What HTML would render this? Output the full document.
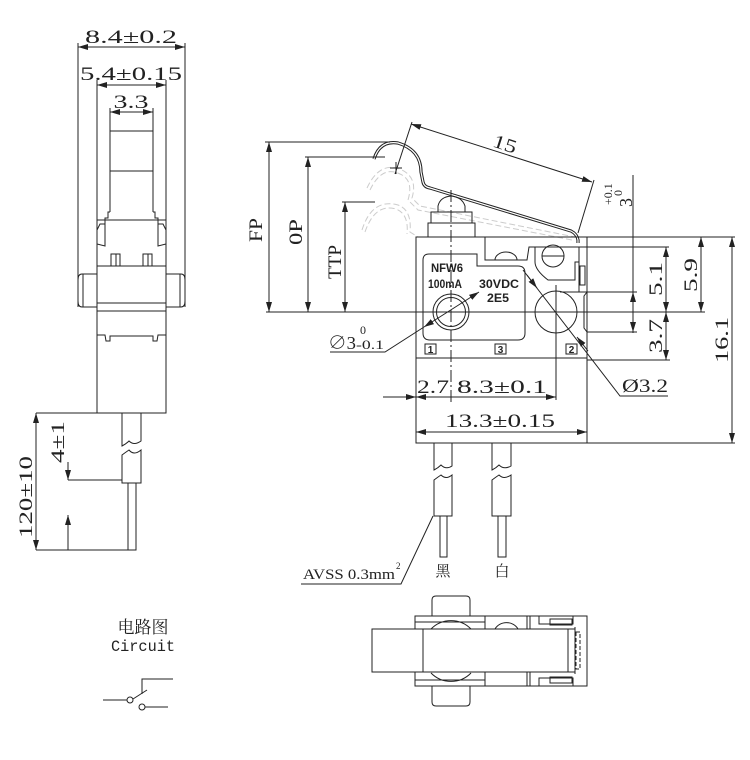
<!DOCTYPE html>
<html><head><meta charset="utf-8"><style>
html,body{margin:0;padding:0;background:#fff;}
svg{display:block;}
text{font-family:"Liberation Serif","Noto Serif CJK SC",serif;fill:#222;}
.s{font-family:"Liberation Sans","Noto Sans CJK SC",sans-serif;font-weight:bold;}
</style></head><body>
<svg width="750" height="760" viewBox="0 0 750 760" xmlns="http://www.w3.org/2000/svg">
<defs>
<marker id="a" viewBox="0 0 10 6" refX="10" refY="3" markerWidth="10" markerHeight="6" markerUnits="userSpaceOnUse" orient="auto-start-reverse"><path d="M0,0 L10,3 L0,6 z" fill="#222"/></marker>
</defs>
<g stroke="#222" stroke-width="1" fill="none">
<!-- LEFT SIDE VIEW -->
<line x1="78" y1="43" x2="78" y2="307"/><line x1="185" y1="43" x2="185" y2="307"/>
<line x1="78" y1="47" x2="185" y2="47" marker-start="url(#a)" marker-end="url(#a)"/>
<line x1="97" y1="80" x2="97" y2="225"/><line x1="166" y1="80" x2="166" y2="225"/>
<line x1="97" y1="85" x2="166" y2="85" marker-start="url(#a)" marker-end="url(#a)"/>
<line x1="110" y1="108" x2="110" y2="212"/><line x1="153" y1="108" x2="153" y2="212"/>
<line x1="110" y1="112" x2="153" y2="112" marker-start="url(#a)" marker-end="url(#a)"/>
<line x1="110" y1="131" x2="153" y2="131"/><line x1="110" y1="171" x2="153" y2="171"/>
<path d="M110,212 L108,212 L108,218 L105,218 L105,224 L100,224 L97,230 L97,244 L105,246 L105,220 M153,212 L155,212 L155,218 L158,218 L158,224 L163,224 L166,230 L166,244 L158,246 L158,220"/>
<line x1="97" y1="220" x2="166" y2="220"/>
<rect x="111" y="254" width="5" height="12"/><rect x="116" y="254" width="4" height="12"/>
<rect x="143" y="254" width="5" height="12"/><rect x="148" y="254" width="4" height="12"/>
<line x1="97" y1="266" x2="166" y2="266"/>
<path d="M97,274 L82,274 Q78,274 78,280 L78,301 Q78,307 82,307 L97,307"/>
<path d="M166,274 L181,274 Q185,274 185,280 L185,301 Q185,307 181,307 L166,307"/>
<line x1="83" y1="274" x2="83" y2="307"/><line x1="180" y1="274" x2="180" y2="307"/>
<rect x="97" y="220" width="69" height="193"/>
<line x1="97" y1="303" x2="166" y2="303"/><line x1="97" y1="311" x2="166" y2="311"/>
<path d="M97,335 L105,335 L106,341 L110,341 L110,336 L153,336 L153,341 L157,341 L158,335 L166,335"/>
<!-- wire -->
<path d="M122,413 L122,446 Q126,444 129,441 Q134,446 141,441 L141,413"/>
<path d="M122,483 L122,455 Q126,452 129,450 Q134,456 141,450 L141,483 Z"/>
<rect x="128" y="483" width="8" height="67"/>
<line x1="36" y1="413" x2="97" y2="413"/><line x1="36" y1="550" x2="136" y2="550"/>
<line x1="68" y1="480" x2="122" y2="480"/>
<line x1="36" y1="413" x2="36" y2="550" marker-start="url(#a)" marker-end="url(#a)"/>
<line x1="68" y1="462" x2="68" y2="480" marker-end="url(#a)"/>
<line x1="68" y1="515" x2="68" y2="550" marker-start="url(#a)"/>
</g>
<g font-size="19">
<text x="131" y="43" text-anchor="middle" textLength="92" lengthAdjust="spacingAndGlyphs">8.4±0.2</text>
<text x="131" y="80" text-anchor="middle" textLength="102" lengthAdjust="spacingAndGlyphs">5.4±0.15</text>
<text x="131" y="108" text-anchor="middle" textLength="35" lengthAdjust="spacingAndGlyphs">3.3</text>
<text transform="translate(32,497) rotate(-90)" text-anchor="middle" textLength="82" lengthAdjust="spacingAndGlyphs">120±10</text>
<text transform="translate(64,442) rotate(-90)" text-anchor="middle" textLength="42" lengthAdjust="spacingAndGlyphs">4±1</text>
</g>

<!-- MAIN VIEW -->
<g stroke="#ccc" stroke-width="1" fill="none" stroke-dasharray="6,3">
<path d="M367,188 Q380,160 402,170 Q418,178 412,198 L420,206 L575,237"/>
<path d="M370,190 Q382,165 400,174 Q414,180 408,200 L418,210 L572,240"/>
<path d="M362,230 Q372,198 398,205 Q412,210 410,232 L418,237 L570,237"/>
<path d="M365,232 Q375,203 396,209 Q409,214 407,234"/>
</g>
<g stroke="#222" stroke-width="1" fill="none">
<!-- lever -->
<path d="M374,159 Q380,140 398,143 Q421,150 421,172 L423,182 Q424,187 430,188 L571,231 Q577,234 578,240 L578,243" stroke-width="3.2"/>
<path d="M374,159 Q380,140 398,143 Q421,150 421,172 L423,182 Q424,187 430,188 L571,231 Q577,234 578,240 L578,243" stroke="#fff" stroke-width="1.2"/>
<line x1="390" y1="168" x2="402" y2="168"/><line x1="396" y1="162" x2="396" y2="174"/>
<!-- plunger -->
<path d="M438,212 L438,206 Q440,197 451,196 Q462,197 465,206 L465,212 Z"/>
<rect x="431" y="212" width="41" height="11"/>
<rect x="428" y="223" width="47" height="14"/>
<!-- body -->
<rect x="416" y="237" width="171" height="206"/>
<line x1="416" y1="358" x2="587" y2="358"/>
<path d="M485,237 L485,260 L527,260 L529,247 L587,247"/>
<path d="M495,260 A11,8 0 0 1 517,260"/>
<path d="M535,247 L535,262 Q535,270 548,280 L575,280 L575,262 L579,262 M579,247 L579,292"/>
<circle cx="553" cy="256" r="11"/><line x1="542" y1="256" x2="564" y2="256"/>
<rect x="580" y="266" width="5" height="19"/>
<path d="M587,292 L584,296 L584,328 L587,332"/>
<path d="M423,260 Q423,254 429,254 L477,254 L477,266 L518,266 Q525,266 525,273 L525,333 Q525,340 518,340 L430,340 Q423,340 423,333 Z"/>
<circle cx="451" cy="312" r="18"/><circle cx="451" cy="312" r="14.5"/>
<circle cx="556" cy="312" r="21"/>
<rect x="425" y="344" width="11" height="10"/><rect x="495" y="344" width="11" height="10"/><rect x="566" y="344" width="11" height="10"/>
<!-- centerlines -->
<line x1="451" y1="190" x2="451" y2="405" stroke-dasharray="12,3,2,3"/>
<line x1="556" y1="285" x2="556" y2="400"/>
<line x1="266" y1="312" x2="705" y2="312"/>
<!-- height dims -->
<line x1="265" y1="142" x2="390" y2="142"/><line x1="305" y1="157" x2="385" y2="157"/><line x1="342" y1="202" x2="375" y2="202"/>
<line x1="269" y1="142" x2="269" y2="312" marker-start="url(#a)" marker-end="url(#a)"/>
<line x1="308" y1="157" x2="308" y2="312" marker-start="url(#a)" marker-end="url(#a)"/>
<line x1="345" y1="202" x2="345" y2="312" marker-start="url(#a)" marker-end="url(#a)"/>
<!-- 15 -->
<line x1="412" y1="122" x2="395" y2="174"/><line x1="594" y1="180" x2="578" y2="233"/>
<line x1="411" y1="124" x2="592" y2="182" marker-start="url(#a)" marker-end="url(#a)"/>
<!-- right dims -->
<line x1="587" y1="237" x2="735" y2="237"/><line x1="587" y1="443" x2="735" y2="443"/>
<line x1="587" y1="247" x2="669" y2="247"/><line x1="587" y1="360" x2="670" y2="360"/>
<line x1="560" y1="292" x2="637" y2="292"/><line x1="587" y1="332" x2="637" y2="332"/>
<line x1="633" y1="175" x2="633" y2="333"/>
<line x1="633" y1="315" x2="633" y2="292" marker-end="url(#a)"/>
<line x1="633" y1="310" x2="633" y2="332" marker-end="url(#a)"/>
<line x1="666" y1="247" x2="666" y2="312" marker-start="url(#a)" marker-end="url(#a)"/>
<line x1="666" y1="312" x2="666" y2="360" marker-start="url(#a)" marker-end="url(#a)"/>
<line x1="701" y1="237" x2="701" y2="312" marker-start="url(#a)" marker-end="url(#a)"/>
<line x1="732" y1="237" x2="732" y2="443" marker-start="url(#a)" marker-end="url(#a)"/>
<!-- bottom dims -->
<line x1="416" y1="358" x2="416" y2="443"/>
<line x1="383" y1="397" x2="416" y2="397" marker-end="url(#a)"/>
<line x1="416" y1="397" x2="556" y2="397" marker-start="url(#a)" marker-end="url(#a)"/>
<line x1="416" y1="432" x2="587" y2="432" marker-start="url(#a)" marker-end="url(#a)"/>
<!-- leaders -->
<path d="M330,352 L385,352 L424,327"/>
<line x1="424" y1="327" x2="479" y2="292" marker-start="url(#a)" marker-end="url(#a)"/>
<path d="M668,396 L620,396 L523,270"/>
<line x1="527" y1="275" x2="537" y2="288" marker-end="url(#a)"/>
<line x1="588" y1="351" x2="577" y2="337" marker-end="url(#a)"/>
<!-- wires -->
<path d="M434,443 L434,470 Q438,468 441,465 Q446,470 452,466 L452,443"/>
<path d="M434,516 L434,480 Q438,477 441,475 Q446,480 452,475 L452,516 Z"/>
<rect x="440" y="516" width="7" height="41"/>
<path d="M492,443 L492,470 Q496,468 499,465 Q504,470 511,466 L511,443"/>
<path d="M492,516 L492,480 Q496,477 499,475 Q504,480 511,475 L511,516 Z"/>
<rect x="498" y="516" width="8" height="41"/>
<path d="M301,584 L401,584 L433,516"/>
<!-- circuit -->
<line x1="103" y1="700" x2="127" y2="700"/><circle cx="130" cy="700" r="3"/>
<line x1="133" y1="699" x2="147" y2="690"/>
<path d="M142,694 L142,679 L173,679"/>
<circle cx="142" cy="707" r="3"/><line x1="145" y1="707" x2="168" y2="707"/>
<!-- bottom view -->
<path d="M432,616 L432,600 Q432,596 436,596 L466,596 Q470,596 470,600 L470,616"/>
<path d="M432,686 L432,702 Q432,706 436,706 L466,706 Q470,706 470,702 L470,686"/>
<rect x="415" y="616" width="172" height="70"/>
<line x1="415" y1="622" x2="485" y2="622"/><line x1="415" y1="680" x2="485" y2="680"/>
<line x1="485" y1="616" x2="485" y2="686"/><line x1="527" y1="616" x2="527" y2="686"/><line x1="530" y1="616" x2="530" y2="686"/>
<path d="M539,616 L539,624 L573,624 L573,616 M539,686 L539,678 L573,678 L573,686"/>
<rect x="550" y="619" width="22" height="6"/><rect x="550" y="677" width="22" height="6"/>
<path d="M431,629 A28,28 0 0 1 471,629 M431,673 A28,28 0 0 0 471,673"/>
<path d="M495,629 A13,12 0 0 1 518,629"/>
<rect x="372" y="629" width="196" height="43" fill="#fff"/>
<line x1="423" y1="629" x2="423" y2="672"/>
<line x1="568" y1="629" x2="575" y2="629"/><line x1="568" y1="672" x2="575" y2="672"/>
<line x1="575" y1="627" x2="575" y2="674"/>
<rect x="576" y="632" width="4" height="37" stroke-dasharray="4,2"/>
</g>
<g font-size="19">
<text transform="translate(262,230) rotate(-90)" text-anchor="middle" textLength="24" lengthAdjust="spacingAndGlyphs">FP</text>
<text transform="translate(302,232) rotate(-90)" text-anchor="middle" textLength="26" lengthAdjust="spacingAndGlyphs">0P</text>
<text transform="translate(341,262) rotate(-90)" text-anchor="middle" textLength="34" lengthAdjust="spacingAndGlyphs">TTP</text>
<text transform="translate(503,150) rotate(18)" text-anchor="middle" textLength="24" lengthAdjust="spacingAndGlyphs">15</text>
<text transform="translate(632,207) rotate(-90)" font-size="18">3</text>
<text transform="translate(612,205) rotate(-90)" font-size="12">+0.1</text>
<text transform="translate(622,196) rotate(-90)" font-size="12">0</text>
<text transform="translate(662,279) rotate(-90)" text-anchor="middle" textLength="34" lengthAdjust="spacingAndGlyphs">5.1</text>
<text transform="translate(662,336) rotate(-90)" text-anchor="middle" textLength="34" lengthAdjust="spacingAndGlyphs">3.7</text>
<text transform="translate(697,275) rotate(-90)" text-anchor="middle" textLength="34" lengthAdjust="spacingAndGlyphs">5.9</text>
<text transform="translate(728,340) rotate(-90)" text-anchor="middle" textLength="46" lengthAdjust="spacingAndGlyphs">16.1</text>
<text x="622" y="392" textLength="46" lengthAdjust="spacingAndGlyphs">Ø3.2</text>
<text x="417" y="393" textLength="32" lengthAdjust="spacingAndGlyphs">2.7</text>
<text x="457" y="393" textLength="90" lengthAdjust="spacingAndGlyphs">8.3±0.1</text>
<text x="500" y="427" text-anchor="middle" textLength="110" lengthAdjust="spacingAndGlyphs">13.3±0.15</text>
<text x="328" y="349" font-size="18" textLength="28" lengthAdjust="spacingAndGlyphs">∅3</text>
<text x="360" y="334" font-size="12">0</text>
<text x="356" y="349" font-size="13" textLength="28" lengthAdjust="spacingAndGlyphs">-0.1</text>
<text x="303" y="579" font-size="15" textLength="92" lengthAdjust="spacingAndGlyphs">AVSS 0.3mm</text>
<text x="396" y="569" font-size="9">2</text>
<text x="443" y="576" font-size="15" text-anchor="middle">黑</text>
<text x="502" y="576" font-size="15" text-anchor="middle">白</text>
<text x="143" y="633" font-size="17" text-anchor="middle">电路图</text>
<text x="143" y="651" font-size="16" text-anchor="middle" textLength="64" lengthAdjust="spacingAndGlyphs" style="font-family:'Liberation Mono',monospace">Circuit</text>
</g>
<g class="s" font-size="12">
<text class="s" x="447" y="272" text-anchor="middle" textLength="32" lengthAdjust="spacingAndGlyphs">NFW6</text>
<text class="s" x="445" y="288" text-anchor="middle" textLength="34" lengthAdjust="spacingAndGlyphs">100mA</text>
<text class="s" x="499" y="288" text-anchor="middle" textLength="40" lengthAdjust="spacingAndGlyphs">30VDC</text>
<text class="s" x="498" y="302" text-anchor="middle" textLength="22" lengthAdjust="spacingAndGlyphs">2E5</text>
<text class="s" x="430.5" y="353" font-size="10" text-anchor="middle">1</text>
<text class="s" x="500.5" y="353" font-size="10" text-anchor="middle">3</text>
<text class="s" x="571.5" y="353" font-size="10" text-anchor="middle">2</text>
</g>
</svg>
</body></html>
